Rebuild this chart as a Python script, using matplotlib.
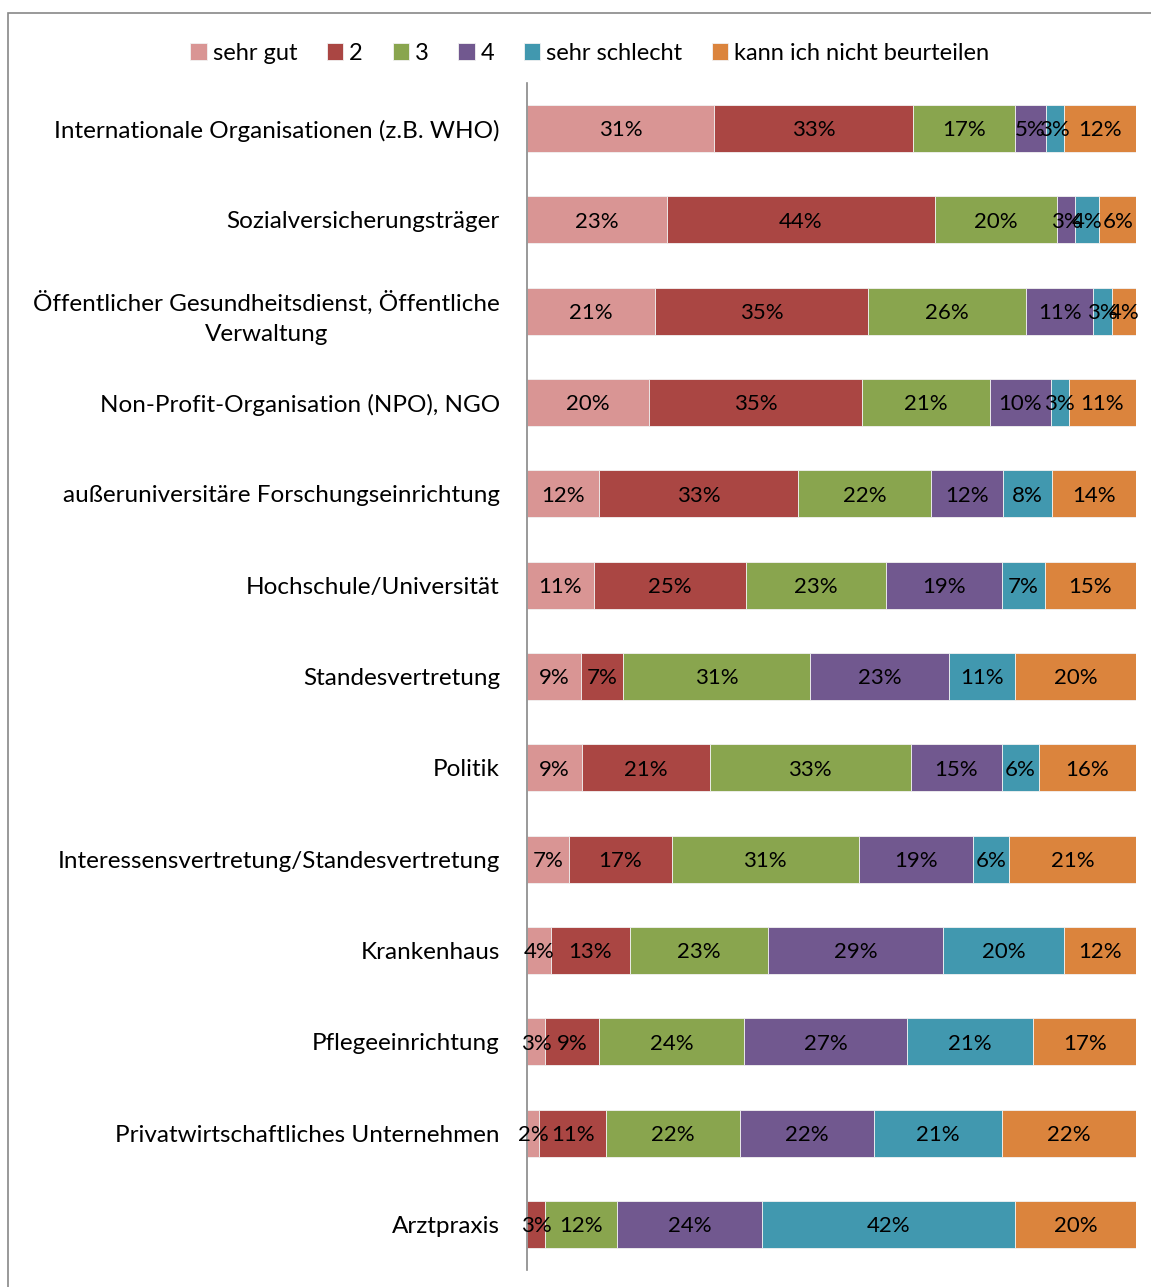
import numpy as np
import matplotlib.pyplot as plt
from matplotlib.patches import Rectangle

plt.rcParams['font.family'] = ['Lato', 'DejaVu Sans']

categories = [
    "Internationale Organisationen (z.B. WHO)",
    "Sozialversicherungsträger",
    "Öffentlicher Gesundheitsdienst, Öffentliche\nVerwaltung",
    "Non-Profit-Organisation (NPO), NGO",
    "außeruniversitäre Forschungseinrichtung",
    "Hochschule/Universität",
    "Standesvertretung",
    "Politik",
    "Interessensvertretung/Standesvertretung",
    "Krankenhaus",
    "Pflegeeinrichtung",
    "Privatwirtschaftliches Unternehmen",
    "Arztpraxis",
]
series_names = ["sehr gut", "2", "3", "4", "sehr schlecht", "kann ich nicht beurteilen"]

sehr_gut      = [31, 23, 21, 20, 12, 11, 9, 9, 7, 4, 3, 2, 0]
note_2        = [33, 44, 35, 35, 33, 25, 7, 21, 17, 13, 9, 11, 3]
note_3        = [17, 20, 26, 21, 22, 23, 31, 33, 31, 23, 24, 22, 12]
note_4        = [5, 3, 11, 10, 12, 19, 23, 15, 19, 29, 27, 22, 24]
sehr_schlecht = [3, 4, 3, 3, 8, 7, 11, 6, 6, 20, 21, 21, 42]
kann_nicht    = [12, 6, 4, 11, 14, 15, 20, 16, 21, 12, 17, 22, 20]

colors = ['#D99594', '#AA4643', '#89A54E', '#71588F', '#4198AF', '#DB843D']

data = np.array([sehr_gut, note_2, note_3, note_4, sehr_schlecht, kann_nicht], dtype=float)
# 100% stacked: each row scaled to its own total
shares = data / data.sum(axis=0)

fig = plt.figure(figsize=(11.51, 12.87), dpi=100)
ax = fig.add_axes([527 / 1151, 1 - 1270 / 1287, 609 / 1151, 1187 / 1287])

y = np.arange(len(categories))
left = np.zeros(len(categories))
handles = []
for i, name in enumerate(series_names):
    bars = ax.barh(y, shares[i], left=left, height=0.515, color=colors[i],
                   edgecolor='#f2f2f2', linewidth=0.6, label=name)
    handles.append(bars)
    for j in range(len(categories)):
        if data[i, j] > 0:
            ax.text(left[j] + shares[i, j] / 2, y[j] + 0.02, '%d%%' % data[i, j],
                    ha='center', va='center', fontsize=16, color='black')
    left += shares[i]

ax.set_xlim(0, 1)
ax.set_ylim(len(categories) - 0.5, -0.5)
ax.set_yticks(y)
ax.set_yticklabels(categories, fontsize=17.5, ha='right', linespacing=1.55,
                   multialignment='center')
ax.tick_params(axis='y', length=0, pad=19.5)
ax.set_xticks([])
for side in ['top', 'right', 'bottom']:
    ax.spines[side].set_visible(False)
ax.spines['left'].set_color('#888888')
ax.spines['left'].set_linewidth(1.2)

fig.legend(handles=handles, labels=series_names, loc='center', ncol=6,
           bbox_to_anchor=(590 / 1151, 1 - 53 / 1287), frameon=False,
           fontsize=17, handlelength=0.7, handleheight=0.7,
           handletextpad=0.25, columnspacing=1.25)

# outer chart frame
fig.patches.append(Rectangle((8 / 1151, -0.1), 1.2, 1.1 - 13 / 1287,
                             transform=fig.transFigure, fill=False,
                             edgecolor='#888888', linewidth=1.2))

fig.savefig('out.png', dpi=100)
